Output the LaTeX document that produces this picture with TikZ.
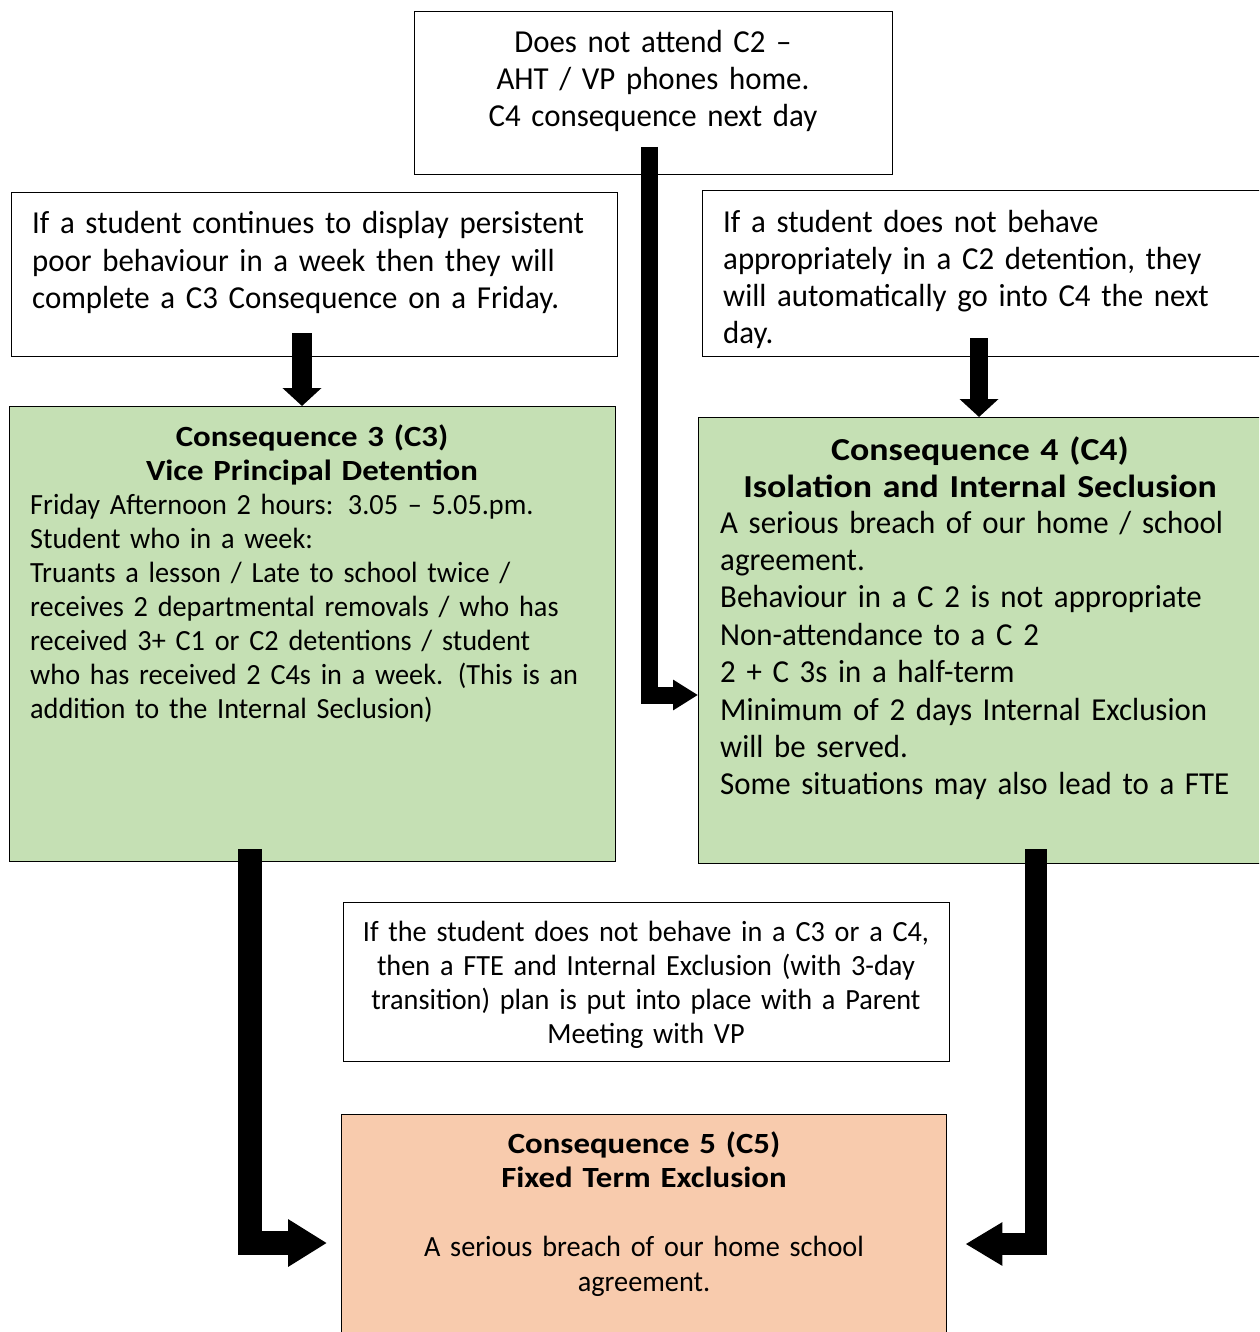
\documentclass[tikz,border=0pt]{standalone}
\usepackage{fontspec}
\setmainfont{Carlito}[FakeStretch=0.965, BoldFeatures={FakeStretch=1.12}]
\usetikzlibrary{arrows.meta}
\definecolor{cgreen}{HTML}{C5E0B4}
\definecolor{cpeach}{HTML}{F8CBAD}
\newcommand\fbig{\fontsize{32}{37}\selectfont}
\newcommand\fsmall{\fontsize{29.3}{34}\selectfont}
\newcommand\fcfour{\fontsize{32}{37.4}\selectfont}
\newcommand\fcfive{\fontsize{29.3}{35}\selectfont}
\begin{document}
\begin{tikzpicture}[x=1pt,y=-1pt,
  box/.style={draw=black, line width=1.4pt, inner sep=0pt, anchor=north west},
  ltxt/.style={inner sep=0pt, anchor=base west, align=left},
  ctxt/.style={inner sep=0pt, anchor=base, align=center},
  fat/.style={line width=#1, line join=miter, line cap=butt, draw=black}]
\clip (0,0) rectangle (1259,1332);
\fill[white] (0,0) rectangle (1259,1332);
% boxes
\node[box, minimum width=478, minimum height=163] (top) at (414,11) {};
\node[box, minimum width=606, minimum height=164] (lt) at (11,192) {};
\node[box, minimum width=573, minimum height=166] (rt) at (702,190) {};
\node[box, fill=cgreen, minimum width=606, minimum height=455] (c3) at (9,406) {};
\node[box, fill=cgreen, minimum width=577, minimum height=446] (c4) at (698,417) {};
\node[box, minimum width=606, minimum height=159] (note) at (343,902) {};
\node[box, fill=cpeach, minimum width=605, minimum height=231] (c5) at (341,1114) {};
% texts
\node[ctxt, text width=470, font=\fbig] (ttop) at (653,53)
  {Does not attend C2 –\\AHT / VP phones home.\\C4 consequence next day};
\node[ltxt, text width=580, font=\fbig] (tlt) at (32,234)
  {If a student continues to display persistent\\poor behaviour in a week then they will\\complete a C3 Consequence on a Friday.};
\node[ltxt, text width=530, font=\fbig] (trt) at (723,233)
  {If a student does not behave\\appropriately in a C2 detention, they\\will automatically go into C4 the next\\day.};
\node[ctxt, text width=590, font=\fsmall\bfseries] (tc3h) at (312,446)
  {Consequence 3 (C3)\\Vice Principal Detention};
\node[ltxt, text width=580, font=\fsmall] (tc3) at (30,514)
  {Friday Afternoon 2 hours: 3.05 – 5.05.pm.\\Student who in a week:\\Truants a lesson / Late to school twice /\\receives 2 departmental removals / who has\\received 3+ C1 or C2 detentions / student\\who has received 2 C4s in a week. (This is an\\addition to the Internal Seclusion)};
\node[ctxt, text width=560, font=\fcfour\bfseries] (tc4h) at (980,460)
  {Consequence 4 (C4)\\Isolation and Internal Seclusion};
\node[ltxt, text width=530, font=\fcfour] (tc4) at (720,533)
  {A serious breach of our home / school\\agreement.\\Behaviour in a C 2 is not appropriate\\Non-attendance to a C 2\\2 + C 3s in a half-term\\Minimum of 2 days Internal Exclusion\\will be served.\\Some situations may also lead to a FTE};
\node[ctxt, text width=600, font=\fsmall] (tnote) at (646,941)
  {If the student does not behave in a C3 or a C4,\\then a FTE and Internal Exclusion (with 3-day\\transition) plan is put into place with a Parent\\Meeting with VP};
\node[ctxt, text width=600, font=\fsmall\bfseries] (tc5h) at (644,1153)
  {Consequence 5 (C5)\\Fixed Term Exclusion};
\node[ctxt, text width=600, font=\fcfive] (tc5) at (644,1256)
  {A serious breach of our home school\\agreement.};
% connectors
\coordinate (s1) at (302,333);
\coordinate (s2) at (979,338);
\coordinate (s3) at (649,147);
\coordinate (k3) at (0,695);
\coordinate (s4) at (250,849);
\coordinate (k4) at (0,1243);
\coordinate (s5) at (1036,849);
\coordinate (k5) at (0,1244);
\draw[fat=20pt, -{Triangle[width=38pt,length=18pt]}] (s1) -- (s1 |- c3.north);
\draw[fat=18pt, -{Triangle[width=38pt,length=18pt]}] (s2) -- (s2 |- c4.north);
\draw[fat=17pt, -{Triangle[width=29pt,length=25pt]}] (s3) |- (c4.west |- k3);
\draw[fat=24pt, -{Triangle[width=45pt,length=39pt]}] (s4) |- ([xshift=-14pt]c5.west |- k4);
\draw[fat=22pt, -{Triangle[width=41pt,length=37pt]}] (s5) |- ([xshift=18pt]c5.east |- k5);
\end{tikzpicture}
\end{document}
